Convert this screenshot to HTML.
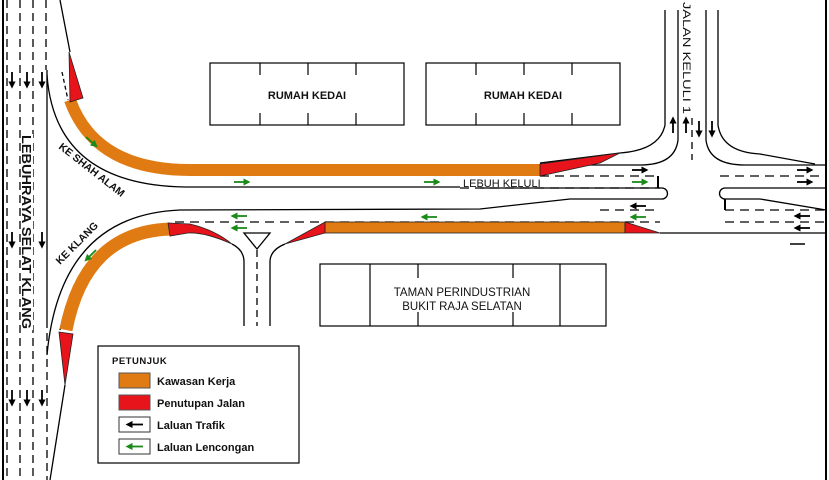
<!DOCTYPE html>
<html><head><meta charset="utf-8"><style>
html,body{margin:0;padding:0;background:#fff}
svg{display:block}
text{font-family:"Liberation Sans",Arial,sans-serif;font-weight:bold;fill:#111}
</style></head><body>
<svg width="829" height="480" viewBox="0 0 829 480" xmlns="http://www.w3.org/2000/svg">
<defs>
<marker id="ab" viewBox="0 0 10 10" refX="5" refY="5" markerWidth="4" markerHeight="4" orient="auto"><path d="M0,0L10,5L0,10z" fill="#000"/></marker>
<marker id="ag" viewBox="0 0 10 10" refX="5" refY="5" markerWidth="4" markerHeight="4" orient="auto"><path d="M0,0L10,5L0,10z" fill="#1a8a1a"/></marker>
</defs>
<rect x="0" y="0" width="829" height="480" fill="#fff"/>
<line x1="3" y1="0" x2="3" y2="480" stroke="#000" stroke-width="2"/>
<line x1="826" y1="0" x2="826" y2="480" stroke="#000" stroke-width="2"/>
<g stroke="#000" fill="none" stroke-width="1.3">
<line x1="7" y1="0" x2="7" y2="480" stroke-dasharray="8,5"/>
<line x1="20" y1="0" x2="20" y2="480" stroke-dasharray="8,5"/>
<line x1="33" y1="0" x2="33" y2="480" stroke-dasharray="8,5"/>
<line x1="46" y1="0" x2="46" y2="70" stroke-dasharray="8,5"/>
<line x1="47" y1="70" x2="47" y2="320"/>
<line x1="47" y1="320" x2="47" y2="480" stroke-dasharray="8,5"/>
<path d="M60,0 L70,52"/>
<path d="M47,75 Q55,185 185,187 L460,187"/>
<path d="M62,72 L68,100" stroke-dasharray="4,3"/>
<path d="M540,163 L620,153 Q660,150 665,125 L665,10"/>
<path d="M678,10 L678,140 Q675,165 640,165 L520,165"/>
<path d="M706,10 L706,140 Q709,165 745,165 L826,165"/>
<path d="M718,10 L718,125 Q722,152 760,154 L815,164"/>
<line x1="692" y1="10" x2="692" y2="160" stroke-dasharray="7,5"/>
<line x1="540" y1="176" x2="660" y2="176" stroke-dasharray="9,6"/>
<line x1="460" y1="188" x2="660" y2="188" stroke-dasharray="9,6"/>
<line x1="720" y1="176" x2="826" y2="176" stroke-dasharray="9,6"/>
<path d="M480,188 L662,188 A5.5,5.5 0 0 1 662,199 L570,199 L480,209 L180,210 Q60,215 47,355"/>
<line x1="658" y1="176" x2="658" y2="188" stroke-width="2"/>
<path d="M826,188 L725,188 A5.5,5.5 0 0 0 725,199 L760,199 L826,210"/>
<line x1="725" y1="199" x2="725" y2="210" stroke-width="2"/>
<line x1="175" y1="222" x2="660" y2="222" stroke-dasharray="9,6"/>
<line x1="600" y1="210" x2="660" y2="210" stroke-dasharray="9,6"/>
<line x1="725" y1="210" x2="826" y2="210" stroke-dasharray="9,6"/>
<line x1="725" y1="222" x2="826" y2="222" stroke-dasharray="9,6"/>
<line x1="660" y1="233" x2="826" y2="233"/>
<line x1="790" y1="244" x2="805" y2="244" stroke-width="1.5"/>
<path d="M232,244 Q244,250 244,262 L244,326"/>
<path d="M285,244 Q270,250 270,262 L270,326"/>
<line x1="257" y1="250" x2="257" y2="326" stroke-dasharray="7,5"/>
<path d="M244,233 L270,233 L257,249 Z"/>
<path d="M65,385 L50,480"/>
<path d="M168,224 Q80,230 60,330"/>
</g>
<path d="M70,100 Q95,170 190,170 L540,170" stroke="#e07b13" stroke-width="12" fill="none"/>
<rect x="325" y="222" width="300" height="11" fill="#e07b13" stroke="#222" stroke-width="0.8"/>
<path d="M66,330 Q85,232 170,229" stroke="#e07b13" stroke-width="13" fill="none"/>
<g fill="#e8141b" stroke="#222" stroke-width="0.8">
<path d="M69,52 L83,98 L70,102 Z"/>
<path d="M540,164 L620,153 L600,163 L540,176 Z"/>
<path d="M625,222 L660,233 L625,233 Z"/>
<path d="M325,222 L325,233 L285,244 Z"/>
<path d="M168,223 L190,224 Q215,230 232,244 Q205,232 188,233 L170,236 Z"/>
<path d="M59,332 L73,334 L65,385 Z"/>
</g>
<g stroke="#000" fill="#fff" stroke-width="1.2">
<rect x="210" y="63" width="194" height="62"/>
<rect x="426" y="63" width="194" height="62"/>
<rect x="320" y="264" width="286" height="62"/>
</g>
<g stroke="#000" stroke-width="1.2">
<path d="M260,63v12M308,63v12M356,63v12M260,113v12M308,113v12M356,113v12"/>
<path d="M476,63v12M524,63v12M572,63v12M476,113v12M524,113v12M572,113v12"/>
<path d="M370,264v62M418,264v14M513,264v14M418,312v14M513,312v14M560,264v62"/>
</g>
<text x="307" y="99" font-size="11" text-anchor="middle">RUMAH KEDAI</text>
<text x="523" y="99" font-size="11" text-anchor="middle">RUMAH KEDAI</text>
<text x="462" y="296" font-size="11.5" text-anchor="middle" style="font-weight:normal">TAMAN PERINDUSTRIAN</text>
<text x="462" y="310" font-size="11.5" text-anchor="middle" style="font-weight:normal">BUKIT RAJA SELATAN</text>
<rect x="460" y="177" width="95" height="10" fill="#fff"/>
<text x="463" y="187" font-size="11" style="font-weight:normal">LEBUH KELULI</text>
<rect x="21" y="134" width="12" height="196" fill="#fff"/>
<text font-size="13" textLength="194" lengthAdjust="spacingAndGlyphs" transform="translate(22,135) rotate(90)">LEBUHRAYA SELAT KLANG</text>
<rect x="682" y="0" width="14" height="116" fill="#fff"/>
<text font-size="11" textLength="112" lengthAdjust="spacingAndGlyphs" transform="translate(683,2) rotate(90)" style="font-weight:normal">JALAN KELULI 1</text>
<text font-size="10.5" transform="translate(58,148) rotate(38)">KE SHAH ALAM</text>
<text font-size="10.5" transform="translate(60,265) rotate(-45)">KE KLANG</text>
<g stroke="#000" stroke-width="1.8">
<path d="M12,72v13" marker-end="url(#ab)"/><path d="M27,72v13" marker-end="url(#ab)"/><path d="M42,72v13" marker-end="url(#ab)"/>
<path d="M12,232v13" marker-end="url(#ab)"/><path d="M42,232v13" marker-end="url(#ab)"/>
<path d="M12,390v13" marker-end="url(#ab)"/><path d="M27,390v13" marker-end="url(#ab)"/><path d="M42,390v13" marker-end="url(#ab)"/>
<path d="M673,133v-13" marker-end="url(#ab)"/><path d="M686,133v-13" marker-end="url(#ab)"/>
<path d="M699,121v13" marker-end="url(#ab)"/><path d="M712,121v13" marker-end="url(#ab)"/>
<path d="M632,170h13" marker-end="url(#ab)"/><path d="M797,170h13" marker-end="url(#ab)"/><path d="M797,182h13" marker-end="url(#ab)"/>
<path d="M646,206h-13" marker-end="url(#ab)"/><path d="M810,216h-13" marker-end="url(#ab)"/><path d="M810,228h-13" marker-end="url(#ab)"/>
</g>
<g stroke="#1a8a1a" stroke-width="1.8">
<path d="M632,182h13" marker-end="url(#ag)"/><path d="M234,182h13" marker-end="url(#ag)"/><path d="M424,182h13" marker-end="url(#ag)"/><path d="M86,137l9,8" marker-end="url(#ag)"/>
<path d="M646,217h-13" marker-end="url(#ag)"/><path d="M247,216h-13" marker-end="url(#ag)"/><path d="M247,228h-13" marker-end="url(#ag)"/><path d="M437,217h-13" marker-end="url(#ag)"/><path d="M96,250l-9,9" marker-end="url(#ag)"/>
</g>
<rect x="98" y="346" width="201" height="117" fill="#fff" stroke="#000" stroke-width="1.2"/>
<text x="112" y="364" font-size="9.5" letter-spacing="0.5">PETUNJUK</text>
<rect x="119" y="373" width="31" height="15" fill="#e07b13" stroke="#555"/>
<rect x="119" y="395" width="31" height="15" fill="#e8141b" stroke="#555"/>
<rect x="119" y="417" width="31" height="15" fill="#fff" stroke="#333"/>
<rect x="119" y="439" width="31" height="15" fill="#fff" stroke="#333"/>
<path d="M143,424.5h-14" stroke="#000" stroke-width="1.8" marker-end="url(#ab)"/>
<path d="M143,446.5h-14" stroke="#1a8a1a" stroke-width="1.8" marker-end="url(#ag)"/>
<text x="157" y="385" font-size="11">Kawasan Kerja</text>
<text x="157" y="407" font-size="11">Penutupan Jalan</text>
<text x="157" y="429" font-size="11">Laluan Trafik</text>
<text x="157" y="451" font-size="11">Laluan Lencongan</text>
</svg>
</body></html>
